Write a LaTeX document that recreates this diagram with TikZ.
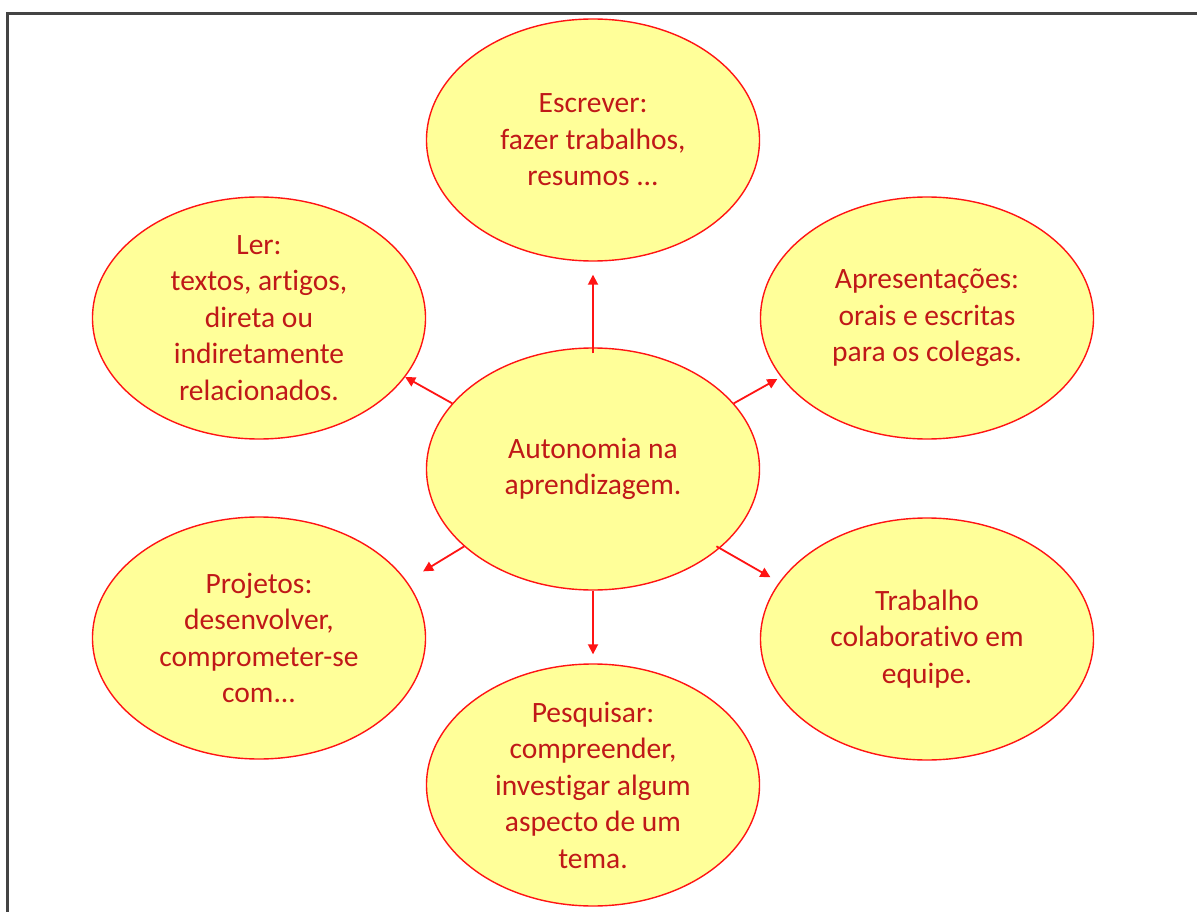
\documentclass[tikz,border=0pt]{standalone}
\usepackage{fontspec}
\setmainfont{Carlito}[RawFeature={-liga}]
\usetikzlibrary{shapes.geometric,arrows.meta}

\definecolor{bubfill}{RGB}{255,255,153}
\definecolor{bubline}{RGB}{255,20,20}
\definecolor{bubtext}{RGB}{192,24,24}
\definecolor{framegray}{RGB}{68,68,68}

\tikzset{
  bub/.style={ellipse, draw=bubline, line width=1.4pt, fill=bubfill,
    minimum width=333pt, minimum height=242pt, inner sep=0pt,
    align=center, text=bubtext, font=\fontsize{29.5}{36.5}\selectfont},
  link/.style={draw=bubline, line width=1.8pt,
    -{Triangle[length=10pt,width=10pt]}},
  framebar/.style={draw=framegray, line width=2.4pt}
}

\begin{document}
\begin{tikzpicture}[x=1pt,y=-1pt]
  \useasboundingbox (0,0) rectangle (1197,912);
  \fill[white] (0,0) rectangle (1197,912);

  % page frame, running off the right and bottom edges
  \draw[framebar] (1200,13.6) -- (7.4,13.6) -- (7.4,915);

  % central idea and the six activities around it
  \node[bub] (c)  at (593,469) {Autonomia na\\aprendizagem.};
  \node[bub] (t)  at (593,140) {Escrever:\\fazer trabalhos,\\resumos ...};
  \node[bub] (ul) at (259,318) {Ler:\\textos, artigos,\\direta ou\\indiretamente\\relacionados.};
  \node[bub] (ur) at (927,318) {Apresentações:\\orais e escritas\\para os colegas.};
  \node[bub] (ll) at (259,638) {Projetos:\\desenvolver,\\comprometer-se\\com...};
  \node[bub] (lr) at (927,639) {Trabalho\\colaborativo em\\equipe.};
  \node[bub] (b)  at (593,785) {Pesquisar:\\compreender,\\investigar algum\\aspecto de um\\tema.};

  % arrows from the centre outwards
  \draw[link, shorten <=-6pt, shorten >=13pt] (c.north) -- (t.south);
  \draw[link] (c.155) -- (ul.-22);
  \draw[link, shorten >=4pt] (c.25) -- (ur.202);
  \draw[link, shorten >=19pt] (c.211) -- (ll.21);
  \draw[link, shorten <=-4pt, shorten >=10pt] (c.-32) -- (lr.159);
  \draw[link, shorten >=9pt] (c.south) -- (b.north);
\end{tikzpicture}
\end{document}
